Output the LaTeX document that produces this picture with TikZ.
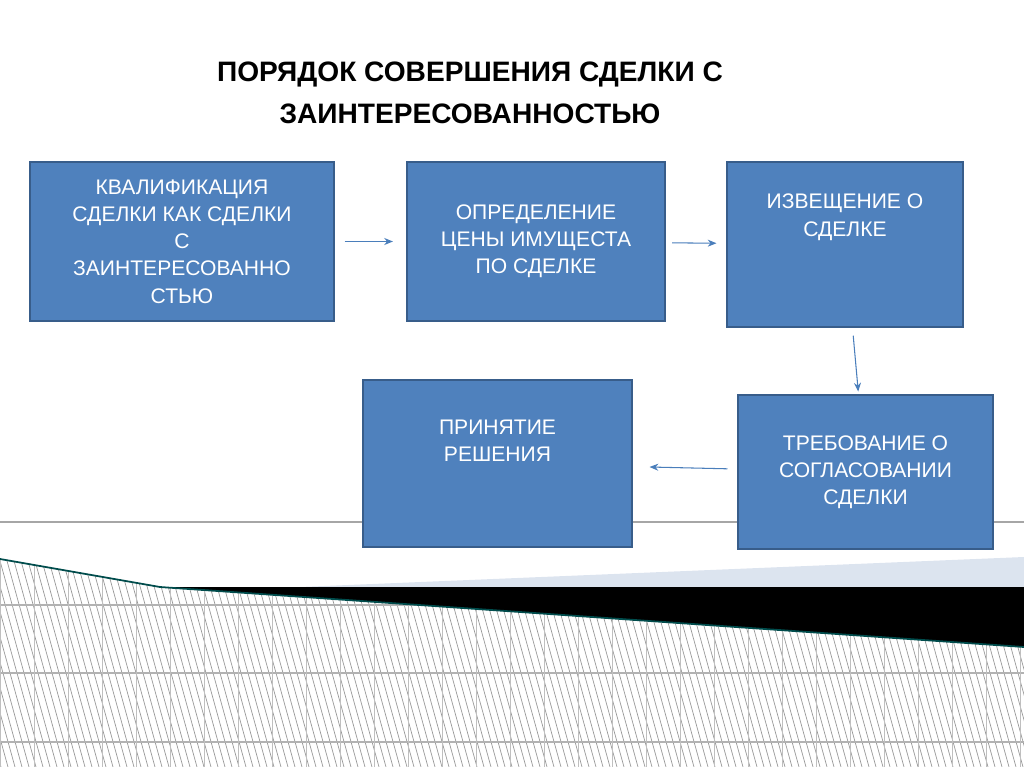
\documentclass[tikz,border=0pt]{standalone}
\usepackage{fontspec}
\setmainfont{Liberation Sans}
\usetikzlibrary{positioning}
\usetikzlibrary{arrows.meta}
\definecolor{boxblue}{HTML}{4F81BD}
\definecolor{boxedge}{HTML}{385D8A}
\definecolor{arrowcol}{HTML}{4A7EBB}
\definecolor{paleblue}{HTML}{DCE4EF}
\tikzset{
    stepbox/.style = {rectangle,draw=boxedge,line width=1.2pt,fill=boxblue,text=white,
      align=center,font=\fontsize{12}{15.5}\selectfont,inner sep=2pt,outer sep=0pt},
    flow/.style = {draw=arrowcol,line width=0.6pt,-{Stealth[length=5pt,width=4pt]}}}
\begin{document}
\begin{tikzpicture}[x=0.02cm,y=-0.02cm]
    \useasboundingbox (0,0) rectangle (1024,767);
    % background
    \draw[color=gray!70,line width=0.8pt] (0,522) -- (1024,522);
    \fill[paleblue] (300,587) -- (1024,557) -- (1024,587) -- cycle;
    \fill[black] (160,587) -- (1024,587) -- (1024,647) -- cycle;
    \begin{scope}
      \clip (0,559) -- (160,587) -- (1024,647) -- (1024,767) -- (0,767) -- cycle;
      \foreach \x in {-80,-73,...,1024} \draw[gray!80,line width=0.4pt] (\x,550) -- (\x+60,767);
      \foreach \y in {605,673,742} \draw[gray!60,line width=0.6pt] (0,\y) -- (1024,\y);
      \foreach \x in {0,34,...,1024} \draw[gray!50,line width=0.4pt] (\x,550) -- (\x,767);
    \end{scope}
    \draw[color=teal!60!black,line width=1pt] (0,559) -- (160,587) -- (1024,647);
    % title
    \node[font=\fontsize{16}{24}\selectfont\bfseries,align=center] (title) at (470,93)
      {ПОРЯДОК СОВЕРШЕНИЯ СДЕЛКИ С\\ЗАИНТЕРЕСОВАННОСТЬЮ};
    % boxes
    \node[stepbox,minimum width=6.08cm,minimum height=3.18cm] (qual) at (182,241.5)
      {КВАЛИФИКАЦИЯ\\СДЕЛКИ КАК СДЕЛКИ\\С\\ЗАИНТЕРЕСОВАННО\\СТЬЮ};
    \node[stepbox,minimum width=5.16cm,minimum height=3.18cm] (price) at (536,241.5)
      {ОПРЕДЕЛЕНИЕ\\ЦЕНЫ ИМУЩЕСТА\\ПО СДЕЛКЕ};
    \node[stepbox,minimum width=4.72cm,minimum height=3.30cm] (notice) at (845,244.5)
      {ИЗВЕЩЕНИЕ О\\СДЕЛКЕ\\[18pt]};
    \node[stepbox,minimum width=5.10cm,minimum height=3.08cm] (demand) at (865.5,472)
      {ТРЕБОВАНИЕ О\\СОГЛАСОВАНИИ\\СДЕЛКИ};
    \node[stepbox,minimum width=5.38cm,minimum height=3.34cm] (decide) at (497.5,463.5)
      {ПРИНЯТИЕ\\РЕШЕНИЯ\\[10pt]};
    % connectors
    \draw[flow,shorten <=6pt,shorten >=8pt] (qual) -- (price);
    \draw[flow,shorten <=4pt,shorten >=6pt] (price) -- (notice);
    \draw[flow,shorten <=5pt,shorten >=2pt] (notice) -- (demand);
    \draw[flow,shorten <=6pt,shorten >=10pt] (demand) -- (decide);
\end{tikzpicture}
\end{document}
